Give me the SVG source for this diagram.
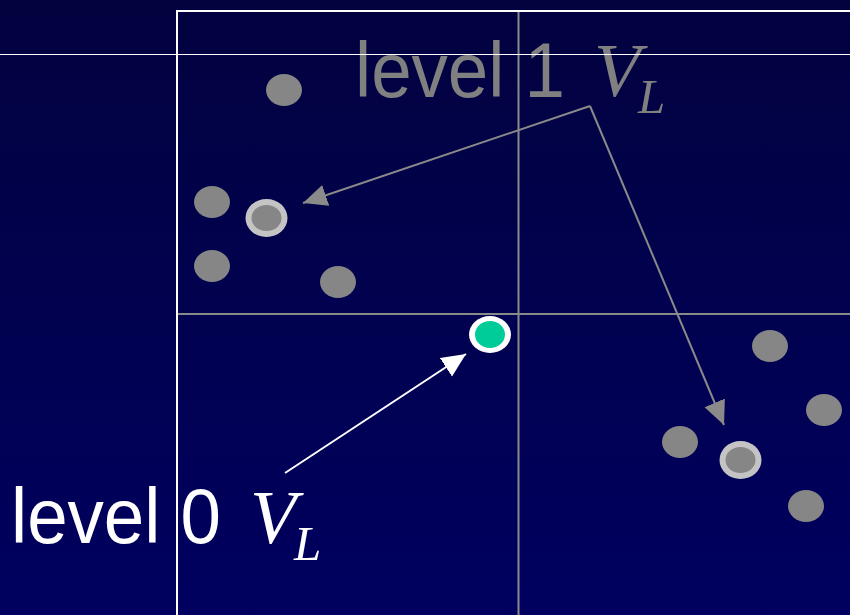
<svg xmlns="http://www.w3.org/2000/svg" width="850" height="615" viewBox="0 0 850 615">
<defs>
<linearGradient id="bg" x1="0" y1="0" x2="0" y2="1">
<stop offset="0" stop-color="#02023f"/>
<stop offset="1" stop-color="#000060"/>
</linearGradient>
<marker id="ag" markerUnits="userSpaceOnUse" markerWidth="26" markerHeight="24" refX="24" refY="11" orient="auto" viewBox="0 0 26 22">
<path d="M0,0 L24,11 L0,22 Z" fill="#8a8a8a"/>
</marker>
<marker id="aw" markerUnits="userSpaceOnUse" markerWidth="26" markerHeight="24" refX="24" refY="11" orient="auto" viewBox="0 0 26 22">
<path d="M0,0 L24,11 L0,22 Z" fill="#ffffff"/>
</marker>
<style>
.dot{fill:#868686}
.ring{fill:#c4c4c4}
.grid{stroke:#8a8a8a;stroke-width:2;fill:none}
.lbl{font-family:"Liberation Sans",Tahoma,sans-serif;font-size:78px}
.math{font-family:"Liberation Serif","Times New Roman",serif;font-style:italic}
</style>
</defs>
<rect x="0" y="0" width="850" height="615" fill="url(#bg)"/>
<g id="grid">
<line class="grid" x1="518.5" y1="10" x2="518.5" y2="615"/>
<line class="grid" x1="176" y1="314" x2="850" y2="314"/>
<rect x="177" y="11" width="700" height="620" fill="none" stroke="#ffffff" stroke-width="2"/>
</g>
<g id="level1-nodes">
<ellipse class="dot" cx="284" cy="90" rx="18" ry="16"/>
<ellipse class="dot" cx="212" cy="202" rx="18" ry="16"/>
<ellipse class="dot" cx="212" cy="266" rx="18" ry="16"/>
<ellipse class="dot" cx="338" cy="282" rx="18" ry="16"/>
<ellipse class="dot" cx="770" cy="346" rx="18" ry="16"/>
<ellipse class="dot" cx="824" cy="410" rx="18" ry="16"/>
<ellipse class="dot" cx="680" cy="442" rx="18" ry="16"/>
<ellipse class="dot" cx="806" cy="506" rx="18" ry="16"/>
</g>
<g id="ring-a">
<ellipse class="ring" cx="266.5" cy="218" rx="21" ry="19"/>
<ellipse class="dot" cx="266.5" cy="218" rx="15" ry="13"/>
</g>
<g id="ring-b">
<ellipse class="ring" cx="740.5" cy="460" rx="21" ry="19"/>
<ellipse class="dot" cx="740.5" cy="460" rx="15" ry="13"/>
</g>
<g id="level0-node">
<ellipse cx="490" cy="334.5" rx="21" ry="18.5" fill="#ffffff"/>
<ellipse cx="490" cy="334.5" rx="15" ry="13.5" fill="#00cc99"/>
</g>
<g id="level1-label" fill="#808080">
<text class="lbl" x="355" y="97" textLength="210" lengthAdjust="spacingAndGlyphs">level 1</text>
<text class="math" x="594" y="96" font-size="76">V</text>
<text class="math" x="638" y="113" font-size="49">L</text>
</g>
<g id="level0-label" fill="#ffffff">
<text class="lbl" x="11" y="543" textLength="210" lengthAdjust="spacingAndGlyphs">level 0</text>
<text class="math" x="250" y="543" font-size="76">V</text>
<text class="math" x="294" y="560" font-size="49">L</text>
</g>
<g id="connectors">
<line x1="590" y1="106" x2="303" y2="203" stroke="#8a8a8a" stroke-width="2" marker-end="url(#ag)"/>
<line x1="590" y1="106" x2="724" y2="425" stroke="#8a8a8a" stroke-width="2" marker-end="url(#ag)"/>
<line x1="285" y1="473" x2="466" y2="354" stroke="#ffffff" stroke-width="2" marker-end="url(#aw)"/>
</g>
<line x1="0" y1="54.5" x2="850" y2="54.5" stroke="#ffffff" stroke-width="1"/>
</svg>
